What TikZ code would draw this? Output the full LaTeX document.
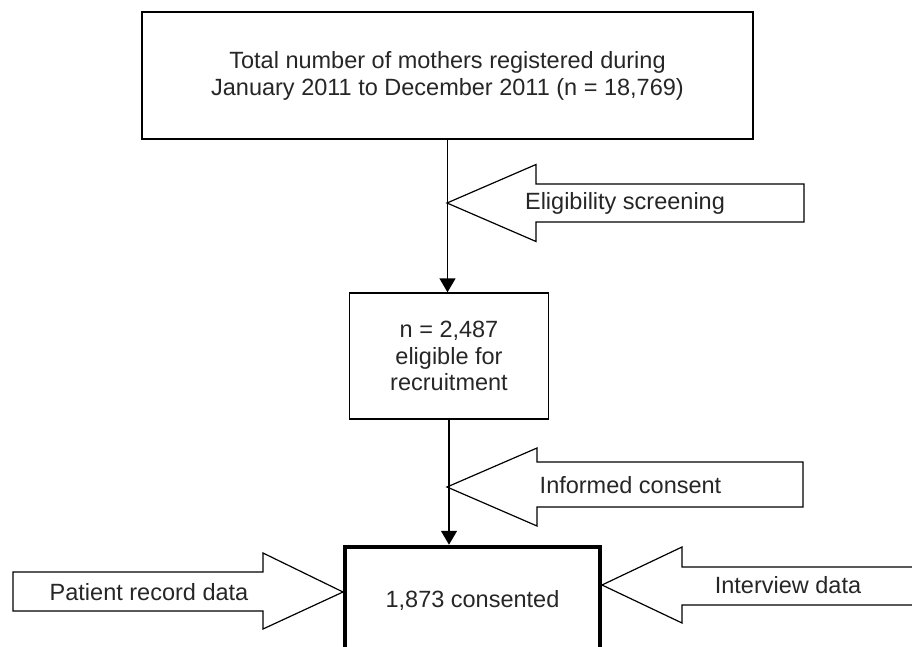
\documentclass[tikz,border=0pt]{standalone}
\usepackage{fontspec}
\setmainfont{Liberation Sans}
\usetikzlibrary{arrows.meta}
\tikzset{
    rbox/.style={draw,line width=1.4bp,align=center,inner sep=0pt,text=black!85},
    cbox/.style={draw,line width=4.5bp,inner sep=0pt,text=black!85},
    barrow/.style={draw,line width=1.2bp,line join=miter,fill=white},
    tt/.style={inner sep=0pt,text=black!85},
    flow/.style={draw,line width=1.5bp,-{Triangle[length=14bp,width=16bp]}},
}
\begin{document}
\begin{tikzpicture}[x=1bp,y=-1bp,font=\fontsize{23.5bp}{27bp}\selectfont]
\useasboundingbox (0,0) rectangle (912,647);
% boxes
\node[rbox,minimum width=611bp,minimum height=127bp] (total) at (447.5,75.5)
    {Total number of mothers registered during\\January 2011 to December 2011 (n = 18,769)};
\node[rbox,minimum width=199bp,minimum height=126bp,font=\fontsize{23.5bp}{26.5bp}\selectfont] (elig) at (449,356)
    {n = 2,487\\eligible for\\recruitment};
\node[cbox,minimum width=255bp,minimum height=106bp] (cons) at (472.5,600) {1,873 consented};
% block arrows
\draw[barrow] (447,203) -- (536,164.5) -- (536,184) -- (804,184) -- (804,222)
    -- (536,222) -- (536,241.5) -- cycle;
\draw[barrow] (447,487) -- (537,448) -- (537,462) -- (803,462) -- (803,507)
    -- (537,507) -- (537,526) -- cycle;
\draw[barrow] (13,572) -- (263,572) -- (263,553) -- (343,592) -- (263,629)
    -- (263,611) -- (13,611) -- cycle;
\draw[barrow] (602,585) -- (682,547) -- (682,567) -- (930,567) -- (930,605)
    -- (682,605) -- (682,623) -- cycle;
\node[tt] (screen) at (625,203) {Eligibility screening};
\node[tt] (inform) at (630.5,485) {Informed consent};
\node[tt] (record) at (149,592) {Patient record data};
\node[tt] (interview) at (788,585) {Interview data};
% flow
\draw[flow] (total.south) -- (total.south |- elig.north);
\draw[flow] (elig.south) -- (elig.south |- cons.north);
\end{tikzpicture}
\end{document}
